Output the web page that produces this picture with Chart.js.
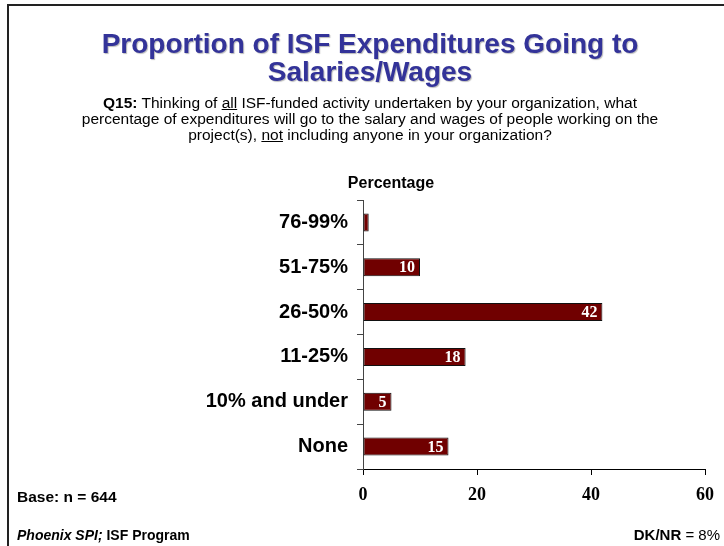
<!DOCTYPE html>
<html>
<head>
<meta charset="utf-8">
<script src="https://cdn.jsdelivr.net/npm/chart.js@4"></script>
<style>
  body { margin: 0; background: #fff; font-family: Arial, "Liberation Sans", sans-serif; }
  #wrap { position: relative; width: 724px; height: 546px; overflow: hidden; }
  #frame { position: absolute; left: 7px; top: 4px; width: 730px; height: 560px;
           border-top: 2px solid #222; border-left: 2px solid #222; }
  canvas { position: absolute; left: 0; top: 0; }
  .txt { position: absolute; color: #000; white-space: nowrap; }
  #title { left: 8px; width: 724px; top: 30px; text-align: center; font-weight: bold;
           font-size: 28px; line-height: 28px; color: #333399; text-shadow: 1px 1px 1px #bbb; }
  #question { left: 0; width: 740px; top: 95px; text-align: center; font-size: 15.5px; line-height: 16px; }
  #pct { left: 341px; width: 100px; top: 174px; text-align: center; font-weight: bold; font-size: 16px; }
  #base { left: 17px; top: 488px; font-weight: bold; font-size: 15.5px; }
  #source { left: 17px; top: 527px; font-weight: bold; font-size: 14px; }
  #dk { right: 4px; top: 526px; font-size: 15px; }
</style>
</head>
<body>
<div id="wrap">
  <div id="frame"></div>
  <canvas id="chart" width="724" height="546"></canvas>
  <div class="txt" id="title">Proportion of ISF Expenditures Going to<br>Salaries/Wages</div>
  <div class="txt" id="question"><b>Q15:</b> Thinking of <u>all</u> ISF-funded activity undertaken by your organization, what<br>percentage of expenditures will go to the salary and wages of people working on the<br>project(s), <u>not</u> including anyone in your organization?</div>
  <div class="txt" id="pct">Percentage</div>
  <div class="txt" id="base">Base: n = 644</div>
  <div class="txt" id="source"><i>Phoenix SPI;</i> ISF Program</div>
  <div class="txt" id="dk"><b>DK/NR</b> = 8%</div>
</div>
<script>
var categories = ["76-99%", "51-75%", "26-50%", "11-25%", "10% and under", "None"];
var percentages = [1, 10, 42, 18, 5, 15];
var xTicks = [0, 20, 40, 60];

// white numbers at the end of each bar
var barLabels = {
    id: "barLabels",
    afterDatasetsDraw: function (chart) {
        var ctx = chart.ctx;
        var meta = chart.getDatasetMeta(0);
        ctx.save();
        ctx.font = "bold 16px 'Liberation Serif', 'Times New Roman', serif";
        ctx.fillStyle = "#fff";
        ctx.textAlign = "right";
        ctx.textBaseline = "middle";
        meta.data.forEach(function (bar, i) {
            ctx.fillText(String(percentages[i]), bar.x - 5, bar.y + 1);
        });
        ctx.restore();
    }
};

var ctx = document.getElementById("chart").getContext("2d");
var chart = new Chart(ctx, {
    type: "bar",
    data: {
        labels: categories,
        datasets: [
            {
                data: percentages,
                backgroundColor: "#700000",
                borderColor: "#111",
                borderWidth: 1,
                borderSkipped: false,
                categoryPercentage: 0.4,
                barPercentage: 1.0,
            },
        ],
    },
    options: {
        indexAxis: "y",
        responsive: false,
        animation: false,
        layout: { padding: { top: 200, right: 15, left: 0, bottom: 0 } },
        plugins: {
            legend: { display: false },
            tooltip: { enabled: false },
        },
        scales: {
            x: {
                min: 0,
                max: 60,
                afterBuildTicks: function (scale) {
                    scale.ticks = xTicks.map(function (v) { return { value: v }; });
                },
                afterFit: function (scale) { scale.height = 77; },
                grid: { drawOnChartArea: false, tickLength: 6, color: "#000" },
                border: { color: "#000", width: 1 },
                ticks: {
                    color: "#000",
                    padding: 10,
                    font: { family: "'Liberation Serif', 'Times New Roman', serif", size: 18, weight: "bold" },
                },
            },
            y: {
                afterFit: function (scale) { scale.width = 363; },
                grid: { drawOnChartArea: false, tickLength: 6, color: "#444", offset: true },
                border: { color: "#444", width: 1 },
                ticks: {
                    color: "#000",
                    padding: 9,
                    font: { family: "Arial, 'Liberation Sans', sans-serif", size: 20, weight: "bold" },
                },
            },
        },
    },
    plugins: [barLabels],
});
</script>
</body>
</html>
